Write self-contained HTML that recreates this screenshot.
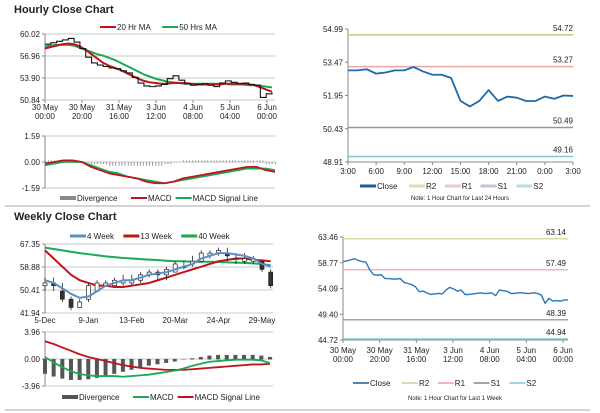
<!DOCTYPE html>
<html><head><meta charset="utf-8"><style>
html,body{margin:0;padding:0;background:#fff;}
svg{display:block;font-family:"Liberation Sans",Arial,sans-serif;}
</style></head><body>
<svg id="s" width="600" height="413" viewBox="0 0 600 413"></svg>
<script>
// ---------- DATA ----------
const hXLabels=[["30 May","00:00"],["30 May","20:00"],["31 May","16:00"],["3 Jun","12:00"],["4 Jun","08:00"],["5 Jun","04:00"],["6 Jun","00:00"]];
const hYTicks=[60.02,56.96,53.90,50.84];
const hClose=[58.6,58.8,59.0,59.2,59.4,58.9,58.0,56.8,56.0,55.7,55.5,55.3,55.2,54.9,54.6,54.0,53.2,52.8,52.7,52.8,53.0,53.8,54.2,53.6,53.1,52.9,53.0,53.1,52.9,52.7,53.2,53.5,53.3,53.1,53.2,53.0,52.9,51.2,51.7,51.9];
const hMA20=[58.0,58.2,58.4,58.6,58.7,58.6,58.3,57.8,57.2,56.6,56.0,55.6,55.3,55.0,54.6,54.2,53.8,53.5,53.3,53.2,53.1,53.1,53.2,53.2,53.2,53.1,53.0,53.0,53.0,53.0,53.0,53.1,53.1,53.1,53.1,53.0,52.9,52.6,52.3,52.0];
const hMA50=[58.3,58.4,58.5,58.5,58.5,58.4,58.1,57.8,57.5,57.2,57.0,56.7,56.4,56.0,55.6,55.2,54.8,54.4,54.1,53.8,53.6,53.4,53.3,53.2,53.1,53.1,53.1,53.1,53.1,53.1,53.1,53.1,53.0,53.0,53.0,52.9,52.9,52.8,52.7,52.6];
const hMacdTicks=[1.59,0.00,-1.59];
const hMacd=[-0.1,0,0.1,0.1,0,-0.3,-0.5,-0.7,-0.8,-0.9,-1.0,-1.2,-1.3,-1.3,-1.2,-1.0,-0.9,-0.8,-0.7,-0.6,-0.5,-0.4,-0.3,-0.3,-0.5,-0.6];
const hSignal=[-0.2,-0.1,0,0,0,-0.2,-0.4,-0.6,-0.7,-0.9,-1.0,-1.1,-1.2,-1.3,-1.2,-1.1,-1.0,-0.9,-0.8,-0.7,-0.6,-0.5,-0.4,-0.4,-0.4,-0.5];
const hDiv=[0.1,0.1,0.1,0.1,0,-0.1,-0.1,-0.2,-0.2,-0.2,-0.2,-0.2,-0.2,-0.1,0,0.1,0.1,0.1,0.1,0.1,0.1,0.1,0.1,0.1,-0.1,-0.1];

const dXLabels=["3:00","6:00","9:00","12:00","15:00","18:00","21:00","0:00","3:00"];
const dYTicks=[54.99,53.47,51.95,50.43,48.91];
const dClose=[53.1,53.1,53.15,52.95,53.0,53.1,53.1,53.25,53.05,52.9,52.9,52.75,51.7,51.45,51.7,52.2,51.7,51.9,51.85,51.7,51.7,51.9,51.8,51.95,51.93];
const dLevels=[54.72,53.27,50.49,49.16];

const wXLabels=["5-Dec","9-Jan","13-Feb","20-Mar","24-Apr","29-May"];
const wYTicks=[67.35,58.88,50.41,41.94];
const wOpen=[52,53,50,47,44,47,50,52,52,53,53,54,56,57,56,57,59,60,61,63,64,64,62,61,61,61,57];
const wClose=[53,52,47,44,46,52,53,53,54,54,54,56,57,56,58,60,59,61,64,64,65,63,62,62,62,58,52];
const wHigh=[55,55,53,48,47,53,54,54,55,56,56,57,58,58,59,61,61,63,65,65,66,66,64,64,63,60,58];
const wLow=[50,50,46,43,44,46,51,52,52,52,52,53,55,54,54,57,58,59,61,62,63,61,60,60,60,57,51];
const w4=[54,53,51,49,47.5,48,50,52,53,54,54,55,56,56.5,57,58,59,60,62,63,64,64,63.5,63,62,60,59];
const w13=[65,62,59,56,54,53,52,52,51.5,51.5,52,52.5,53,54,55,56,57,58,59,60,61,61.5,62,62,61.5,61.3,61];
const w40=[66,65.5,65,64.5,64,63.6,63.2,62.8,62.5,62.2,62,61.8,61.6,61.4,61.2,61,61,60.8,60.8,60.8,60.7,60.6,60.5,60.4,60.2,60,59.5];
const wMacdTicks=[3.96,0.00,-3.96];
const wMacd=[0.3,-0.5,-1.2,-1.8,-2.2,-2.4,-2.5,-2.5,-2.5,-2.6,-2.5,-2.4,-2.3,-2.1,-1.9,-1.7,-1.4,-1.0,-0.7,-0.4,-0.3,-0.2,-0.1,-0.1,-0.1,-0.2,-0.6];
const wSignal=[2.6,2.2,1.7,1.2,0.7,0.3,0,-0.3,-0.6,-0.9,-1.1,-1.3,-1.4,-1.5,-1.6,-1.6,-1.6,-1.5,-1.4,-1.3,-1.2,-1.1,-1.0,-0.9,-0.8,-0.8,-0.7];
const wDiv=[-2.1,-2.5,-2.8,-3.0,-3.0,-2.9,-2.7,-2.4,-2.1,-1.8,-1.5,-1.2,-0.9,-0.7,-0.5,-0.3,0,0.1,0.3,0.5,0.6,0.6,0.6,0.6,0.6,0.5,0.3];

const kXLabels=[["30 May","00:00"],["30 May","20:00"],["31 May","16:00"],["3 Jun","12:00"],["4 Jun","08:00"],["5 Jun","04:00"],["6 Jun","00:00"]];
const kYTicks=[63.46,58.77,54.09,49.40,44.72];
const kClose=[59.0,59.1,59.3,59.5,59.2,59.0,58.9,57.5,56.6,56.5,56.6,55.9,55.9,55.8,55.8,55.9,55.2,55.0,54.8,54.4,53.5,53.6,53.3,53.0,53.1,53.2,53.1,53.8,54.3,54.0,53.6,53.8,53.0,53.0,53.1,53.2,53.3,53.2,53.2,53.3,52.8,53.8,53.7,53.6,53.2,53.2,53.3,53.3,53.2,53.2,53.3,53.2,52.9,51.4,52.3,51.8,51.9,51.8,52.0,52.0];
const kLevels=[63.14,57.49,48.39,44.94];

// ---------- HELPERS ----------
const S=document.getElementById('s');const NS='http://www.w3.org/2000/svg';
function el(t,a,txt){const e=document.createElementNS(NS,t);for(const k in a)e.setAttribute(k,a[k]);if(txt!==undefined)e.textContent=txt;S.appendChild(e);return e;}
function lin(d0,d1,r0,r1){return v=>r0+(v-d0)*(r1-r0)/(d1-d0);}
function txt(x,y,s,anchor,size,name,extra){const t=el('text',Object.assign({x:x,y:y,'font-size':size||8,fill:'#222','text-anchor':anchor||'start'},extra||{}),s);return t;}
function line(x1,y1,x2,y2,c,w,name){const l=el('line',{x1,y1,x2,y2,stroke:c,'stroke-width':w||1});return l;}
function poly(arr,xs,ys,c,w,name){const pts=arr.map((v,i)=>xs(i)+','+ys(v)).join(' ');const p=el('polyline',{points:pts,fill:'none',stroke:c,'stroke-width':w,'stroke-linejoin':'round'});return p;}
function yaxis(ticks,ys,x0,x1,name,grid){ticks.forEach((t,i)=>{if(grid)line(x0,ys(t),x1,ys(t),'#c8c8c8',1,name+'-gridline');line(x0-3,ys(t),x0,ys(t),'#888',1,name+'-tick');txt(x0-5,ys(t)+3,t.toFixed(2),'end',8,name+'-label');});line(x0,ys(ticks[0]),x0,ys(ticks[ticks.length-1]),'#888',1,name+'-axis');}
function legend(items,x,y,name){let cx=x;items.forEach(it=>{const sw=el('rect',{x:cx,y:y-(it.h||2)/2-3,width:16,height:it.h||2,fill:it.c});txt(cx+17,y,it.t,'start',8,name+'-label');cx+=17+it.t.length*4.4+10;});}

txt(14,13,'Hourly Close Chart','start',11,'hourly-title',{'font-weight':'bold'});
txt(14,220,'Weekly Close Chart','start',11,'weekly-title',{'font-weight':'bold'});
line(5,206,590,206,'#aaa',1,'section-separator');
line(5,410,590,410,'#aaa',1,'bottom-separator');

// ---------- HOURLY PRICE ----------
(function(){const x0=45,x1=275;const ys=lin(60.02,50.84,34,100);const xs=i=>x0+i*(272-x0)/(hClose.length-1);
yaxis(hYTicks,ys,x0,x1,'hourly-y',true);
hXLabels.forEach((l,i)=>{const x=x0+i*(267-x0)/6;line(x,100,x,103,'#888',1,'hourly-x-tick');txt(x,110,l[0],'middle',8,'hourly-x-label');txt(x,119,l[1],'middle',8,'hourly-x-label');});
poly(hMA50,xs,ys,'#1aaa55',2,'ma50-line');poly(hMA20,xs,ys,'#c0141c',2,'ma20-line');
const pts=[];hClose.forEach((v,i)=>{pts.push(xs(i)+','+ys(v));if(i<hClose.length-1)pts.push(xs(i+1)+','+ys(v));});
const p=el('polyline',{points:pts.join(' '),fill:'none',stroke:'#111',"stroke-width":1.1});
legend([{t:'20 Hr MA',c:'#c0141c'},{t:'50 Hrs MA',c:'#1aaa55'}],100,30,'hourly-legend');
})();
// ---------- HOURLY MACD ----------
(function(){const x0=45,x1=275;const ys=lin(1.59,-1.59,136,188);const xs=i=>x0+i*(275-x0)/(hMacd.length-1);
yaxis(hMacdTicks,ys,x0,x1,'hourly-macd-y',true);
hDiv.forEach((v,i)=>{for(let k=0;k<3;k++){const x=xs(i)+k*2.9;if(x>275)break;const r=el('rect',{x:x,y:Math.min(ys(v),ys(0)),width:1,height:Math.abs(ys(v)-ys(0))+0.5,fill:'#999'});}});
poly(hSignal,xs,ys,'#1aaa55',1.8,'hourly-signal-line');poly(hMacd,xs,ys,'#c0141c',1.8,'hourly-macd-line');
legend([{t:'Divergence',c:'#888',h:4},{t:'MACD',c:'#c0141c'},{t:'MACD Signal Line',c:'#1aaa55'}],60,201,'hourly-macd-legend');
})();
// ---------- DAILY (24h) ----------
(function(){const x0=348,x1=573;const ys=lin(54.99,48.91,29,162);const xs=i=>x0+i*(x1-x0)/(dClose.length-1);
yaxis(dYTicks,ys,x0,x1,'day-y',false);line(x0,162,x1,162,'#888',1,'day-x-axis');
dXLabels.forEach((l,i)=>{const x=x0+i*(x1-x0)/8;line(x,162,x,165,'#888',1,'day-x-tick');txt(x,174,l,'middle',8,'day-x-label');});
const cols=['#b5d27a','#e8a8a8','#a08ac0','#7fc8d8'];
dLevels.forEach((v,i)=>{line(x0,ys(v),x1,ys(v),cols[i],1.5,'day-level-line');txt(x1,ys(v)-4,v.toFixed(2),'end',8,'day-level-label');});
poly(dClose,xs,ys,'#1f6aa5',1.8,'day-close-line');
legend([{t:'Close',c:'#1f5a90',h:3},{t:'R2',c:'#d6e3b0',h:3},{t:'R1',c:'#ebc9c9',h:3},{t:'S1',c:'#c8bfd8',h:3},{t:'S2',c:'#b8dbe6',h:3}],360,189,'day-legend');
txt(460,200,'Note: 1 Hour Chart for Last 24 Hours','middle',6,'day-note');
})();
// ---------- WEEKLY PRICE ----------
(function(){const x0=45,x1=273;const ys=lin(67.35,41.94,244,313);const xs=i=>x0+i*(262-x0)/25;
yaxis(wYTicks,ys,x0,x1,'weekly-y',true);
wXLabels.forEach((l,i)=>{const x=xs(i*5);txt(x,323,l,'middle',8,'weekly-x-label');});
poly(w40,xs,ys,'#1aaa55',2,'week40-line');poly(w13,xs,ys,'#c0141c',2,'week13-line');
wOpen.forEach((o,i)=>{const c=wClose[i],x=xs(i);line(x,ys(wHigh[i]),x,ys(wLow[i]),'#222',0.8,'weekly-candle-wick');const up=c>=o;const r=el('rect',{x:x-2,y:ys(Math.max(o,c)),width:4,height:Math.max(1,Math.abs(ys(o)-ys(c))),fill:up?'#fff':'#333',stroke:'#222','stroke-width':0.7});});
poly(w4,xs,ys,'#5b8fc8',2,'week4-line');
legend([{t:'4 Week',c:'#5b8fc8',h:3},{t:'13 Week',c:'#c0141c',h:3},{t:'40 Week',c:'#1aaa55',h:3}],70,239,'weekly-legend');
})();
// ---------- WEEKLY MACD ----------
(function(){const x0=45,x1=273;const ys=lin(3.96,-3.96,332,386);const xs=i=>x0+i*(270-x0)/26;
yaxis(wMacdTicks,ys,x0,x1,'weekly-macd-y',true);
wDiv.forEach((v,i)=>{const r=el('rect',{x:xs(i)-2,y:Math.min(ys(v),ys(0)),width:4,height:Math.abs(ys(v)-ys(0))+0.5,fill:'#555'});});
poly(wSignal,xs,ys,'#c0141c',1.8,'weekly-signal-line');poly(wMacd,xs,ys,'#1aaa55',1.8,'weekly-macd-line');
legend([{t:'Divergence',c:'#555',h:4},{t:'MACD',c:'#1aaa55'},{t:'MACD Signal Line',c:'#c0141c'}],62,400,'weekly-macd-legend');
})();
// ---------- WEEK HOURLY ----------
(function(){const x0=343,x1=568;const ys=lin(63.46,44.72,237,340);const xs=i=>x0+i*(x1-x0)/(kClose.length-1);
yaxis(kYTicks,ys,x0,x1,'week-hourly-y',false);line(x0,340,x1,340,'#888',1,'week-hourly-x-axis');
kXLabels.forEach((l,i)=>{const x=x0+i*(563-x0)/6;line(x,340,x,343,'#888',1,'week-hourly-x-tick');txt(x,353,l[0],'middle',8,'week-hourly-x-label');txt(x,362,l[1],'middle',8,'week-hourly-x-label');});
const cols=['#c4d89a','#eaa0a0','#888','#7fc8d8'];
kLevels.forEach((v,i)=>{line(x0,ys(v),x1,ys(v),cols[i],1.2,'week-level-line');txt(x1-2,ys(v)-4,v.toFixed(2),'end',8,'week-level-label');});
poly(kClose,xs,ys,'#2a78b8',1.4,'week-close-line');
legend([{t:'Close',c:'#1f5a90',h:1.5},{t:'R2',c:'#c4d89a',h:1.5},{t:'R1',c:'#eaa0a0',h:1.5},{t:'S1',c:'#888',h:1.5},{t:'S2',c:'#7fc8d8',h:1.5}],353,386,'week-legend');
txt(455,400,'Note: 1 Hour Chart for Last 1 Week','middle',6,'week-note');
})();
</script>
</body></html>
